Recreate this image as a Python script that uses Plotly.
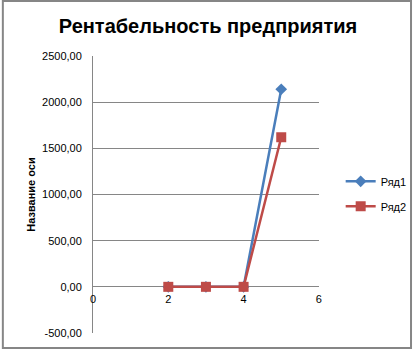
import plotly.graph_objects as go

title = "Рентабельность предприятия"
y_title = "Название оси"
x_vals = [2, 3, 4, 5]
series1_name = "Ряд1"
series1 = [0, 0, 0, 2140]
series2_name = "Ряд2"
series2 = [0, 0, 0, 1620]
y_tickvals = [-500, 0, 500, 1000, 1500, 2000, 2500]
y_ticktext = ["-500,00", "0,00", "500,00", "1000,00", "1500,00", "2000,00", "2500,00"]
x_tickvals = [0, 2, 4, 6]
x_ticktext = ["0", "2", "4", "6"]

font = "Liberation Sans, Arial, sans-serif"
grid = "#868686"

L, R, T, B = 93, 0, 56, 16
W, H = 416, 349
pw = W - L - R          # paper width in px
ph = H - T - B          # paper height in px
plot_right = 321        # right edge of plotting area in px

fig = go.Figure()
fig.add_trace(go.Scatter(
    x=x_vals, y=series1, name=series1_name, mode="lines+markers",
    line=dict(color="#4A7EBB", width=2.5),
    marker=dict(symbol="diamond", size=9, color="#4A7EBB"),
    legendgroup="a",
))
fig.add_trace(go.Scatter(
    x=x_vals, y=series2, name=series2_name, mode="lines+markers",
    line=dict(color="#BE4B48", width=2.5),
    marker=dict(symbol="square", size=10, color="#BE4B48"),
    legendgroup="b",
))

fig.update_layout(
    width=W, height=H,
    margin=dict(l=L, r=R, t=T, b=B),
    paper_bgcolor="white", plot_bgcolor="white",
    font=dict(family=font, color="black", size=11),
    title=dict(text="<b>" + title + "</b>", x=0.5, xref="container", xanchor="center",
               y=1 - 26 / H, yanchor="middle",
               font=dict(size=20, family=font, color="black")),
    showlegend=True,
    legend=dict(x=(345 - 2 - L) / pw, y=0.6, xanchor="left", yanchor="top",
                font=dict(size=11, family=font), tracegroupgap=6,
                bgcolor="rgba(0,0,0,0)"),
    xaxis=dict(domain=[0, (plot_right - L) / pw],
               range=[0, 6], tickvals=x_tickvals, ticktext=x_ticktext,
               showgrid=False, zeroline=False, showline=False,
               anchor="free", position=500 / 3000, ticks="",
               ticklabelstandoff=4, tickfont=dict(size=11)),
    yaxis=dict(range=[-500, 2500], tickvals=y_tickvals, ticktext=y_ticktext,
               showgrid=True, gridcolor=grid, gridwidth=1,
               zeroline=False, showline=True, linecolor=grid, linewidth=1,
               ticks="", ticklabelstandoff=8, tickfont=dict(size=11),
               title=dict(text="<b>" + y_title + "</b>", font=dict(size=11), standoff=4)),
    shapes=[dict(type="rect", xref="paper", yref="paper",
                 x0=(2 - L) / pw, x1=(414 - L) / pw,
                 y0=-(B - 1) / ph, y1=1 + (T - 1) / ph,
                 line=dict(color=grid, width=2), layer="below")],
)

fig.write_html("out.html")
